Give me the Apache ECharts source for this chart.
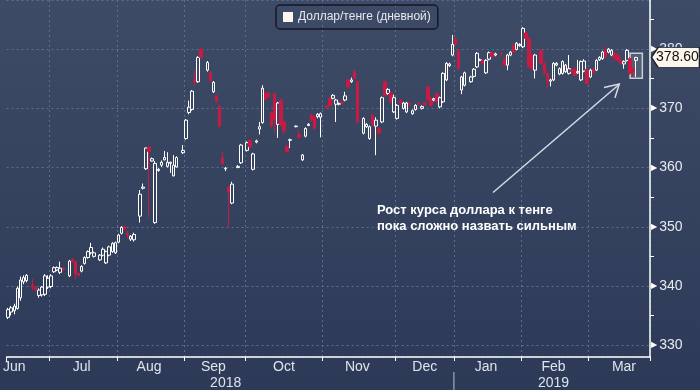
<!DOCTYPE html>
<html><head><meta charset="utf-8">
<script src="https://cdn.jsdelivr.net/npm/echarts@6/dist/echarts.min.js"></script>
<style>html,body{margin:0;padding:0;background:#34415d;}#c{width:700px;height:390px;}</style>
</head><body><div id="c"></div>
<script>
// Candles: [open, close, low, high]; null = no candle read in that slot
const monthNames = ['Jun','Jul','Aug','Sep','Oct','Nov','Dec','Jan','Feb','Mar'];
const monthSlots = [14,22,22,20,25,24,19,22,22,20];
const monthLabelAt = [2,24,46,67,90,114,136,156,178,201];
const yearNames = ['2018','2019'];
const lastPrice = 378.60;

const jun = [
 [334.7,336.0,334.4,336.3],[335.6,336.3,335.0,336.6],[335.8,336.6,335.2,337.0],[336.2,339.6,336.0,339.9],
 [338.0,341.0,337.5,341.6],[340.7,341.4,340.3,341.8],[340.9,341.8,340.6,342.0],null,
 [340.1,339.8,339.3,341.2],[339.8,339.4,339.0,340.0],[338.4,339.3,338.0,339.6],[338.5,339.8,338.2,340.0],
 [338.6,341.7,338.3,342.0],[339.8,341.3,339.5,341.8]
];
const jul = [
 [339.9,341.7,339.6,342.0],[342.4,343.1,342.2,343.3],[342.7,343.1,342.5,343.3],[342.3,343.0,342.0,344.1],
 [343.0,342.8,342.5,343.2],null,[341.7,344.2,341.5,344.4],[344.5,344.1,343.9,344.7],[344.1,342.0,341.1,344.3],
 [342.1,341.8,341.6,342.2],[342.5,343.3,342.3,343.5],[343.8,344.8,343.6,345.0],[344.8,345.8,344.6,346.0],
 [345.6,346.5,345.3,347.3],[345.0,345.6,344.8,345.8],null,[344.4,345.2,344.2,345.4],[345.2,346.2,345.0,346.5],
 [343.9,345.8,343.7,346.0],[345.2,346.6,345.0,346.8],[345.8,347.2,345.6,347.4],[345.6,347.3,345.4,347.5]
];
const aug = [
 [347.4,348.6,347.2,348.8],[348.9,349.9,348.7,350.1],[350.0,349.6,349.4,350.2],[348.9,348.5,348.0,349.3],
 [347.9,348.4,347.6,348.6],[347.8,348.7,347.5,349.0],null,[351.8,355.5,350.7,356.2],[356.5,356.7,356.3,357.3],
 [359.8,363.3,359.6,363.4],[363.5,362.7,351.6,363.6],[361.1,361.5,361.0,361.7],[350.7,360.7,350.5,361.1],
 [359.5,359.7,359.3,359.9],[360.4,360.9,360.1,361.2],[361.3,361.7,361.2,362.8],[360.2,360.9,360.0,362.6],
 [360.7,360.9,359.1,361.0],[358.6,360.4,358.5,362.1],[360.1,361.7,360.0,361.9],null,[362.5,362.9,362.3,363.8]
];
const sep = [
 [364.9,368.0,364.7,368.2],[369.3,370.2,369.0,371.3],[369.8,372.9,369.6,373.1],[374.9,374.5,373.8,376.5],
 [374.5,378.6,374.3,378.8],[380.0,378.6,378.4,380.2],null,[376.45,377.75,376.2,378.0],[376.1,374.6,374.4,376.3],
 [372.8,374.4,372.6,374.6],[372.1,371.1,370.9,372.3],[370.3,367.0,366.8,370.5],[361.6,360.7,360.4,362.65],
 [359.8,359.9,359.4,360.1],[356.7,355.9,349.9,356.9],[354.0,357.2,353.8,357.6],null,[360.0,360.2,359.9,360.4],
 [360.8,363.8,360.6,364.0],null
];
const oct = [
 [362.9,364.2,362.7,364.4],[364.6,363.5,363.3,364.8],[359.7,362.3,359.5,362.5],[364.3,364.5,364.1,364.7],
 [366.5,366.9,365.6,367.7],[367.6,373.4,367.4,373.9],[372.6,371.5,371.3,372.8],[372.6,371.9,371.7,372.8],
 [369.2,367.0,366.8,369.4],[372.5,368.0,365.9,372.7],[367.3,370.9,365.0,371.1],[371.4,367.2,367.0,371.6],
 [367.7,366.2,365.6,367.9],[363.6,362.7,362.5,363.8],[364.6,364.7,363.3,364.9],null,[366.9,367.0,366.8,367.1],
 [365.6,365.1,365.0,366.3],[361.3,362.1,361.1,362.3],[365.3,366.6,365.1,366.8],[367.1,367.3,367.0,367.5],
 [368.9,368.0,367.8,369.1],[368.6,366.6,366.4,368.8],[368.6,369.0,368.3,369.2],[368.5,369.1,365.1,369.3]
];
const nov = [
 null,[370.4,370.1,369.9,370.6],[371.7,370.5,370.3,371.9],[371.7,372.2,371.5,372.4],[370.7,371.4,367.7,371.6],
 [370.7,370.8,370.5,371.0],[371.1,370.9,370.7,371.3],[371.4,372.1,371.2,372.8],[374.8,373.6,373.4,375.0],
 [374.5,374.8,374.3,375.2],[376.2,375.05,374.9,376.5],[374.5,367.7,367.5,374.7],null,[365.8,368.3,365.6,368.5],
 [366.9,367.3,366.7,367.5],[364.9,366.9,364.7,367.1],[368.9,367.2,367.0,369.1],[367.0,368.0,362.1,368.5],
 [366.6,365.8,365.6,366.8],[367.7,371.8,367.5,372.0],[374.5,372.2,372.0,374.7],[372.5,373.2,372.3,373.4],
 [372.6,371.1,370.9,372.8],[369.4,371.8,369.2,372.3]
];
const dec = [
 [368.3,370.5,368.1,370.7],[371.4,370.8,370.6,371.6],[370.0,370.9,369.8,371.1],[369.4,370.9,369.2,371.1],
 [370.9,370.6,370.4,371.1],[369.1,369.6,368.9,369.8],[369.8,370.5,369.6,370.7],[370.9,370.7,370.5,371.0],
 [370.0,370.3,369.8,370.5],[370.9,370.6,370.4,371.1],[373.6,371.4,371.2,373.9],[371.7,370.5,370.3,371.9],
 [371.4,371.6,371.2,371.8],[372.5,371.1,370.9,372.7],[370.25,371.8,370.0,372.0],[371.1,375.9,370.9,376.1],
 [374.8,377.6,374.6,377.8],[377.2,377.5,377.0,377.7],[379.0,380.8,378.8,382.4]
];
const jan = [
 [381.8,380.8,380.6,382.0],[379.8,376.7,376.5,380.0],[373.1,375.3,372.4,375.5],[373.9,376.0,373.7,376.2],null,
 [374.5,375.3,374.3,375.5],[375.4,376.6,375.2,376.8],[377.0,379.3,376.8,379.5],[378.1,378.2,378.0,378.4],
 [378.1,377.6,377.4,378.3],[376.0,378.1,375.8,378.3],[378.3,379.4,378.1,379.6],[379.4,378.7,378.5,379.6],
 [379.0,379.2,378.8,379.4],null,[379.3,379.1,378.9,379.5],[378.4,377.3,377.1,378.6],[377.3,379.0,376.45,379.2],
 [379.0,379.5,378.8,379.7],[380.7,379.5,379.3,380.9],[379.95,381.0,379.8,381.2],[380.6,380.8,380.4,381.0]
];
const feb = [
 [380.4,383.5,380.2,383.7],[382.75,381.8,381.6,383.0],[381.8,377.0,376.8,382.0],[379.0,376.7,376.5,379.2],
 [376.45,379.0,375.05,379.2],null,[379.8,377.6,377.4,380.0],[377.6,375.9,375.7,377.8],[375.9,374.5,373.4,376.1],
 [374.6,374.8,373.7,375.0],[374.8,377.6,374.6,377.8],[377.3,377.6,377.1,377.8],[375.8,376.7,375.6,376.9],
 [375.9,377.9,375.7,378.1],[376.2,377.3,376.0,377.5],[375.9,376.7,375.7,379.0],[376.5,376.2,376.0,376.7],
 [376.6,375.6,375.4,376.8],[376.0,376.2,375.8,378.2],[374.8,377.9,374.6,378.1],[376.3,378.0,376.1,378.3],
 [376.6,374.2,374.0,376.8]
];
const mar = [
 [375.3,376.45,375.1,376.7],[376.6,376.0,375.8,376.8],[376.45,378.1,376.3,378.3],[378.2,378.6,378.0,378.8],
 [378.4,379.5,378.2,379.7],[379.8,378.7,378.5,380.5],[379.5,380.0,379.3,380.2],[379.0,379.8,378.8,380.0],
 [379.3,378.4,378.2,379.5],[378.9,378.1,377.9,379.1],[378.1,377.6,377.4,378.3],[377.5,377.9,376.7,378.1],
 [378.1,379.8,377.9,380.0],[378.4,375.9,375.7,378.6],[376.7,376.2,375.3,376.9],[378.1,378.6,375.3,378.7]
];

const months = [jun, jul, aug, sep, oct, nov, dec, jan, feb, mar];
const candles = [];
const monthStart = [];
months.forEach((m, k) => {
  monthStart.push(candles.length);
  for (let i = 0; i < monthSlots[k]; i++) candles.push(m[i] ? m[i] : '-');
});
const cats = candles.map((_, i) => String(i));
const startSet = new Set(monthStart);
const labelMap = new Map(monthLabelAt.map((p, k) => [p, monthNames[k]]));
const janIdx = monthStart[7];
const yearMap = new Map([[Math.round(janIdx / 2) - 2, yearNames[0]], [Math.round((janIdx + cats.length) / 2), yearNames[1]]]);
let lastIdx = 0; candles.forEach((c, i) => { if (c !== '-') lastIdx = i; });
const boxLow = Math.min(...mar.slice(-3).map(c => c[2])) - 0.2, boxHigh = Math.max(...mar.slice(-2).map(c => c[3])) + 0.6;

const lblFont = "'Liberation Sans Narrow','Liberation Sans',sans-serif";
const chart = echarts.init(document.getElementById('c'), null, {renderer: 'canvas'});
const grid = '#5f6f8b';
chart.setOption({
  animation: false,
  backgroundColor: new echarts.graphic.LinearGradient(0, 0, 0, 1, [{offset: 0, color: '#3e4b67'}, {offset: 1, color: '#2d3a57'}]),
  legend: {
    left: 276, top: 5, padding: [6, 7, 6, 7],
    data: [{name: 'Доллар/тенге (дневной)', icon: 'rect', itemStyle: {color: '#fff6f2', borderWidth: 0}}],
    itemWidth: 10, itemHeight: 10,
    textStyle: {color: '#e6e8ee', fontSize: 12, fontFamily: 'Liberation Sans'},
    borderColor: '#131926', borderWidth: 1.5, borderRadius: 4
  },
  grid: {left: 0, right: 50, top: 0, bottom: 33},
  xAxis: [{
    type: 'category', data: cats, boundaryGap: true,
    axisLine: {lineStyle: {color: '#ffffff', width: 1.5}},
    axisTick: {show: true, interval: (i) => startSet.has(i), length: 4, lineStyle: {color: '#ffffff'}},
    axisLabel: {interval: (i) => labelMap.has(i), formatter: (v, i) => labelMap.get(i) || '', color: '#dfe3ea', fontSize: 14, fontFamily: lblFont, margin: 3},
    splitLine: {show: true, interval: (i) => startSet.has(i) && i > 0, lineStyle: {color: grid, type: [2, 3]}}
  }, {
    type: 'category', data: cats, position: 'bottom', boundaryGap: true,
    axisLine: {show: false}, axisTick: {show: false}, splitLine: {show: false},
    axisLabel: {interval: (i) => yearMap.has(i), formatter: (v, i) => yearMap.get(i) || '', color: '#dfe3ea', fontSize: 14, fontFamily: lblFont, margin: 19}
  }],
  yAxis: {
    type: 'value', position: 'right', min: 328, max: 388.3, splitNumber: 5,
    axisLine: {show: true, lineStyle: {color: '#ffffff', width: 1.5}},
    axisTick: {show: false},
    minorTick: {show: true, splitNumber: 2, length: 4, lineStyle: {color: '#ffffff'}},
    splitLine: {show: true, lineStyle: {color: grid, type: [2, 3]}},
    axisLabel: {
      showMinLabel: false, showMaxLabel: false, margin: 1,
      formatter: (v) => (Math.abs(v % 10) < 1e-6 ? '{t|▶}{v|' + v + '}' : ''),
      rich: {t: {fontSize: 8, color: '#ffffff', fontFamily: 'DejaVu Sans', padding: [0, 2, 0, 0]},
             v: {fontSize: 14, color: '#e6e9ee', fontFamily: lblFont}}
    }
  },
  series: [{
    type: 'candlestick', name: 'Доллар/тенге (дневной)', data: candles, barWidth: 3, clip: false,
    itemStyle: {color: 'rgba(0,0,0,0)', color0: '#c81a42', borderColor: '#ffffff', borderColor0: '#c81a42', borderWidth: 1},
    markArea: {
      silent: true,
      itemStyle: {color: 'rgba(255,255,255,0.12)', borderColor: '#c9cdd5', borderWidth: 1.5},
      data: [[{coord: [String(lastIdx - 2), boxHigh]}, {coord: [String(lastIdx + 2), boxLow]}]]
    },
    markPoint: {
      silent: true,
      symbol: 'path://M0,10 L7,0 L50,0 L50,20 L7,20 Z', symbolSize: [48, 20], symbolKeepAspect: false,
      symbolOffset: [27, 0],
      itemStyle: {color: '#fdf6ec', borderColor: '#1b2130', borderWidth: 1},
      label: {show: true, formatter: lastPrice.toFixed(2), color: '#111111', fontSize: 14, fontFamily: lblFont, offset: [2, 0]},
      data: [{coord: [String(cats.length - 1), lastPrice], value: lastPrice}]
    }
  }]
});

const xa = chart.convertToPixel({xAxisIndex: 0}, janIdx);
const xb = chart.convertToPixel({xAxisIndex: 0}, janIdx - 1);
const sepX = (xa + xb) / 2;
chart.setOption({
  graphic: [
    {type: 'line', shape: {x1: sepX, y1: 372, x2: sepX, y2: 390}, style: {stroke: '#b9bfca', lineWidth: 1}},
    {type: 'text', left: 377, top: 202, style: {text: 'Рост курса доллара к тенге\nпока сложно назвать сильным', fill: '#ffffff', font: 'bold 13px "Liberation Sans", sans-serif', lineHeight: 16}},
    {type: 'polyline', shape: {points: [[493, 192.5], [619, 84.5]]}, style: {stroke: '#d8dbe2', lineWidth: 1.5}},
    {type: 'polyline', shape: {points: [[604, 87.5], [619.3, 84], [615, 97.7]]}, style: {stroke: '#d8dbe2', lineWidth: 1.5, fill: null}}
  ]
});
</script></body></html>
